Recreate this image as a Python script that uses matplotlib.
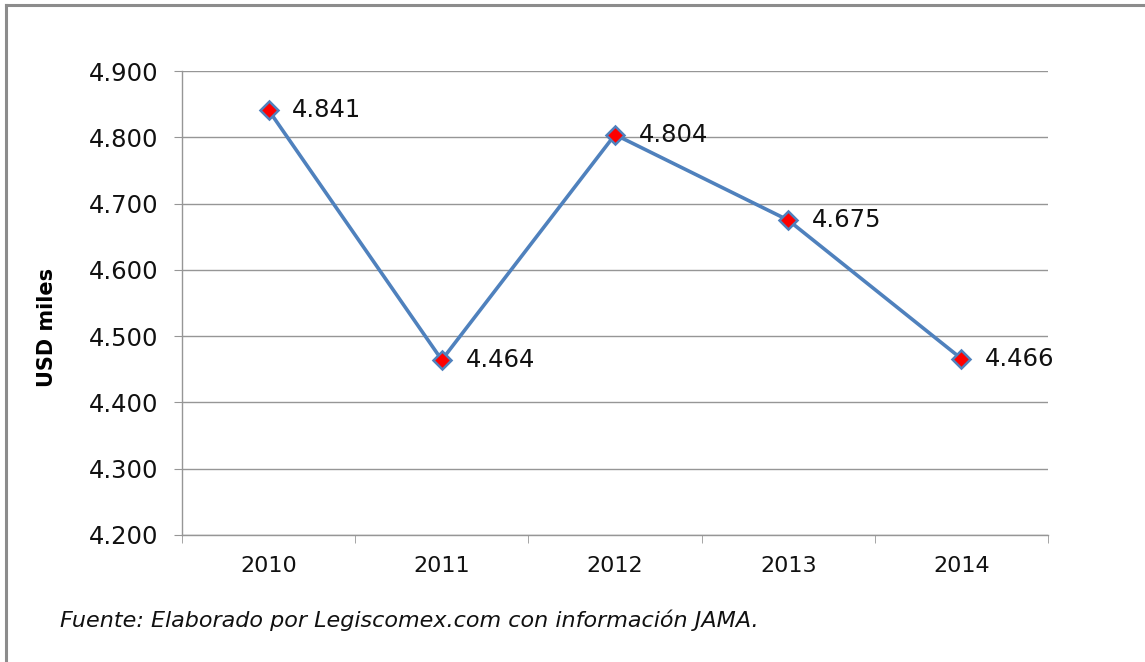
import numpy as np
import matplotlib.pyplot as plt
from matplotlib.lines import Line2D
from matplotlib.ticker import FixedLocator, FormatStrFormatter

plt.rcParams['font.family'] = ['DejaVu Sans']

years = ['2010', '2011', '2012', '2013', '2014']
valores = [4.841, 4.464, 4.804, 4.675, 4.466]
etiquetas = ['4.841', '4.464', '4.804', '4.675', '4.466']

W, H = 1145, 662
fig = plt.figure(figsize=(W / 100, H / 100), dpi=100)
ax = fig.add_axes([182 / W, 1 - 535 / H, (1048 - 182) / W, (535 - 71) / H])

x = np.arange(len(years))
azul = '#4f81bd'
ax.plot(x, valores, color=azul, linewidth=2.6, marker='D', markersize=9.5,
        markerfacecolor='#ff0000', markeredgecolor=azul, markeredgewidth=1.8, zorder=3)

for xi, yi, t in zip(x, valores, etiquetas):
    ax.annotate(t, (xi, yi), xytext=(17, 0), textcoords='offset points',
                va='center', ha='left', fontsize=17.5, color='#111111')

ax.set_xlim(-0.5, len(years) - 0.5)
ax.set_ylim(4.2, 4.9)
ax.set_yticks(np.arange(4.2, 4.91, 0.1))
ax.yaxis.set_major_formatter(FormatStrFormatter('%.3f'))
ax.set_xticks(x)
ax.set_xticklabels(years)
ax.xaxis.set_minor_locator(FixedLocator(np.arange(-0.5, len(years), 1.0)))

gris = '#969696'
ax.grid(True, axis='y', color=gris, linewidth=1.0)
ax.set_axisbelow(True)
for s in ['top', 'right']:
    ax.spines[s].set_visible(False)
for s in ['left', 'bottom']:
    ax.spines[s].set_color(gris)
    ax.spines[s].set_linewidth(1.0)

ax.tick_params(axis='y', length=6, color=gris, labelsize=17.5, pad=11, labelcolor='#111111')
ax.tick_params(axis='x', which='major', length=0, labelsize=16, pad=15, labelcolor='#111111')
ax.tick_params(axis='x', which='minor', length=6, color=gris)

fig.text(47 / W, 1 - 327 / H, 'USD miles', rotation=90, fontsize=15,
         fontweight='bold', ha='center', va='center')
fig.text(60 / W, 1 - 620 / H, 'Fuente: Elaborado por Legiscomex.com con información JAMA.',
         fontsize=16, style='italic', ha='left', va='center', color='#111111')

# borde del cuadro
gris_borde = '#8c8c8c'
fig.add_artist(Line2D([6 / W, 1.0], [1 - 5 / H, 1 - 5 / H], color=gris_borde, linewidth=2.2,
                      transform=fig.transFigure))
fig.add_artist(Line2D([6 / W, 6 / W], [0.0, 1 - 5 / H], color=gris_borde, linewidth=2.2,
                      transform=fig.transFigure))

fig.savefig('out.png', dpi=100)
